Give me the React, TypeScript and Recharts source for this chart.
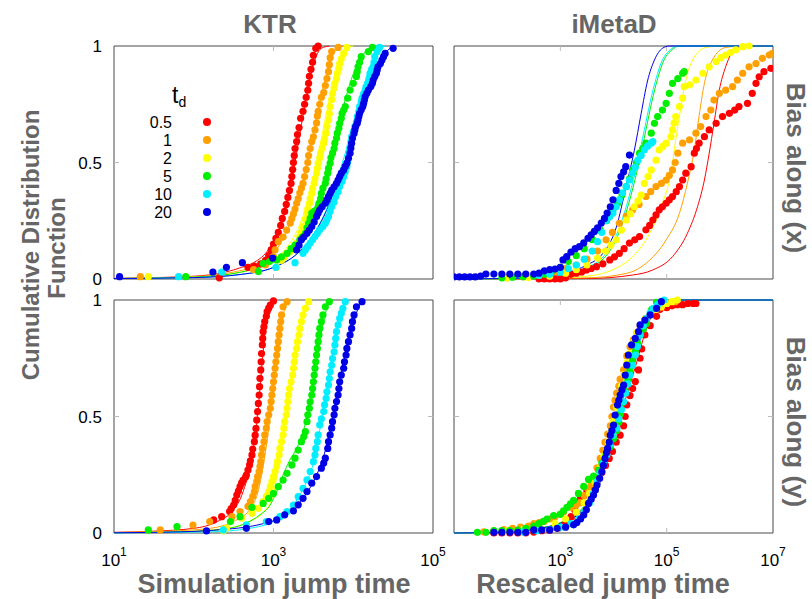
import {
  ComposedChart,
  Scatter,
  Line,
  XAxis,
  YAxis,
  ReferenceArea,
  ReferenceLine,
  Legend,
} from 'recharts'

type P = [number, number]

const TD_LABELS = ['0.5', '1', '2', '5', '10', '20']
const TD_COLORS = ['#ff0000', '#ffa000', '#ffff00', '#00ee00', '#00eeff', '#0000e6']
const X_TICKS_KTR = [10, 1e3, 1e5]
const X_TICKS_META = [1e3, 1e5, 1e7]

// KTR, bias along x
const ktrX_05: P[] = [[2.32,0.005],[2.68,0.05],[2.76,0.055],[2.84,0.065],[2.9,0.08],[2.94,0.1],[2.97,0.125],[3.0,0.15],[3.03,0.175],[3.06,0.2],[3.09,0.23],[3.11,0.26],[3.14,0.29],[3.16,0.32],[3.18,0.35],[3.2,0.38],[3.22,0.41],[3.23,0.44],[3.24,0.47],[3.25,0.5],[3.26,0.53],[3.27,0.56],[3.29,0.59],[3.3,0.62],[3.32,0.65],[3.34,0.69],[3.37,0.72],[3.39,0.75],[3.41,0.78],[3.43,0.81],[3.44,0.84],[3.45,0.87],[3.47,0.9],[3.49,0.93],[3.5,0.96],[3.53,0.99],[3.56,1]]
const ktrX_1: P[] = [[1.33,0.01],[2.75,0.04],[2.9,0.06],[3.0,0.096],[3.02,0.125],[3.06,0.16],[3.12,0.18],[3.165,0.21],[3.21,0.24],[3.23,0.26],[3.25,0.28],[3.27,0.3],[3.29,0.325],[3.31,0.345],[3.33,0.37],[3.35,0.39],[3.37,0.41],[3.39,0.44],[3.41,0.47],[3.43,0.5],[3.44,0.53],[3.46,0.56],[3.48,0.59],[3.5,0.61],[3.52,0.64],[3.54,0.67],[3.55,0.7],[3.56,0.72],[3.58,0.75],[3.6,0.78],[3.63,0.8],[3.65,0.83],[3.67,0.86],[3.69,0.89],[3.7,0.92],[3.71,0.95],[3.73,0.976],[3.81,0.994]]
const ktrX_2: P[] = [[1.43,0.01],[3.04,0.05],[3.1,0.08],[3.14,0.096],[3.2,0.115],[3.23,0.125],[3.27,0.14],[3.29,0.154],[3.33,0.182],[3.35,0.2],[3.37,0.225],[3.4,0.255],[3.42,0.283],[3.43,0.3],[3.45,0.325],[3.46,0.345],[3.48,0.368],[3.49,0.39],[3.51,0.411],[3.52,0.43],[3.54,0.454],[3.55,0.475],[3.56,0.497],[3.58,0.52],[3.59,0.54],[3.61,0.56],[3.63,0.583],[3.64,0.6],[3.66,0.626],[3.67,0.655],[3.69,0.683],[3.7,0.71],[3.71,0.74],[3.73,0.77],[3.74,0.797],[3.76,0.82],[3.77,0.84],[3.79,0.86],[3.8,0.883],[3.82,0.905],[3.83,0.925],[3.85,0.945],[3.88,0.968],[3.92,0.994]]
const ktrX_5: P[] = [[1.9,0.01],[2.81,0.032],[2.87,0.067],[2.95,0.075],[3.04,0.082],[3.1,0.095],[3.17,0.11],[3.22,0.13],[3.27,0.146],[3.33,0.168],[3.36,0.18],[3.4,0.196],[3.42,0.22],[3.44,0.239],[3.46,0.26],[3.48,0.283],[3.51,0.29],[3.54,0.297],[3.56,0.31],[3.57,0.325],[3.59,0.345],[3.6,0.368],[3.62,0.39],[3.65,0.411],[3.66,0.43],[3.68,0.454],[3.69,0.475],[3.71,0.497],[3.72,0.52],[3.74,0.54],[3.76,0.56],[3.77,0.583],[3.79,0.605],[3.8,0.626],[3.82,0.647],[3.83,0.668],[3.85,0.69],[3.86,0.711],[3.88,0.725],[3.9,0.74],[3.93,0.776],[3.96,0.811],[4.0,0.84],[4.04,0.869],[4.05,0.89],[4.06,0.911],[4.08,0.93],[4.1,0.954],[4.19,0.976],[4.24,0.994]]
const ktrX_10: P[] = [[1.81,0.01],[2.35,0.03],[3.03,0.05],[3.27,0.07],[3.37,0.11],[3.4,0.125],[3.43,0.14],[3.46,0.154],[3.49,0.168],[3.52,0.182],[3.55,0.196],[3.58,0.211],[3.62,0.225],[3.65,0.239],[3.67,0.254],[3.69,0.268],[3.71,0.29],[3.73,0.311],[3.76,0.33],[3.78,0.354],[3.81,0.375],[3.83,0.397],[3.86,0.418],[3.88,0.439],[3.9,0.46],[3.92,0.482],[3.93,0.503],[3.94,0.525],[3.95,0.546],[3.96,0.568],[3.97,0.59],[3.98,0.611],[4.0,0.632],[4.02,0.654],[4.04,0.675],[4.05,0.697],[4.07,0.72],[4.08,0.74],[4.1,0.76],[4.11,0.776],[4.13,0.795],[4.15,0.811],[4.16,0.825],[4.18,0.84],[4.2,0.862],[4.21,0.883],[4.23,0.9],[4.25,0.911],[4.26,0.93],[4.27,0.954],[4.3,0.975],[4.33,0.994]]
const ktrX_20: P[] = [[1.07,0.01],[2.24,0.03],[2.41,0.05],[2.61,0.07],[2.99,0.09],[3.29,0.125],[3.32,0.145],[3.35,0.168],[3.38,0.18],[3.42,0.196],[3.45,0.21],[3.48,0.225],[3.51,0.245],[3.54,0.268],[3.56,0.283],[3.58,0.297],[3.61,0.31],[3.65,0.325],[3.67,0.34],[3.69,0.354],[3.71,0.368],[3.73,0.382],[3.76,0.396],[3.79,0.411],[3.81,0.425],[3.83,0.44],[3.85,0.454],[3.88,0.468],[3.9,0.483],[3.92,0.497],[3.94,0.518],[3.96,0.54],[3.97,0.562],[3.98,0.583],[3.99,0.604],[4.01,0.625],[4.02,0.64],[4.03,0.654],[4.05,0.668],[4.06,0.682],[4.07,0.697],[4.08,0.711],[4.1,0.726],[4.12,0.74],[4.13,0.754],[4.14,0.768],[4.15,0.783],[4.17,0.797],[4.19,0.811],[4.22,0.826],[4.24,0.84],[4.25,0.854],[4.27,0.869],[4.29,0.883],[4.3,0.897],[4.31,0.911],[4.34,0.925],[4.36,0.94],[4.38,0.954],[4.4,0.968],[4.5,0.99]]
const ktrXFit_05: P[] = [[1,0.003],[2,0.012],[2.4,0.03],[2.6,0.05],[2.8,0.08],[2.9,0.11],[3,0.16],[3.1,0.24],[3.2,0.37],[3.3,0.56],[3.4,0.76],[3.5,0.92],[3.6,0.99],[3.7,1]]
const ktrXFit_1: P[] = [[1,0.002],[2,0.01],[2.5,0.03],[2.8,0.06],[3,0.11],[3.1,0.16],[3.2,0.23],[3.3,0.33],[3.4,0.46],[3.5,0.62],[3.6,0.79],[3.7,0.92],[3.8,0.99],[3.9,1]]
const ktrXFit_2: P[] = [[1,0.002],[2,0.008],[2.6,0.03],[2.9,0.06],[3.1,0.11],[3.2,0.15],[3.3,0.21],[3.4,0.3],[3.5,0.43],[3.6,0.6],[3.7,0.77],[3.8,0.91],[3.9,0.99],[4,1]]
const ktrXFit_5: P[] = [[1,0.002],[2,0.008],[2.6,0.03],[2.9,0.06],[3.1,0.09],[3.3,0.15],[3.5,0.27],[3.6,0.37],[3.7,0.5],[3.8,0.64],[3.9,0.77],[4,0.88],[4.1,0.95],[4.2,0.99],[4.3,1]]
const ktrXFit_10: P[] = [[1,0.002],[2,0.006],[2.6,0.02],[3,0.05],[3.3,0.11],[3.5,0.19],[3.7,0.33],[3.8,0.43],[3.9,0.54],[4,0.66],[4.1,0.79],[4.2,0.9],[4.3,0.97],[4.4,1]]
const ktrXFit_20: P[] = [[1,0.002],[2,0.006],[2.6,0.02],[3,0.05],[3.3,0.11],[3.5,0.19],[3.7,0.32],[3.8,0.41],[3.9,0.5],[4,0.62],[4.1,0.74],[4.2,0.84],[4.3,0.92],[4.4,0.97],[4.5,1]]

// KTR, bias along y
const ktrY_05: P[] = [[2.25,0.056],[2.35,0.07],[2.45,0.092],[2.47,0.105],[2.5,0.12],[2.52,0.14],[2.54,0.163],[2.56,0.18],[2.58,0.199],[2.6,0.215],[2.62,0.227],[2.65,0.24],[2.66,0.249],[2.68,0.27],[2.7,0.292],[2.71,0.31],[2.73,0.335],[2.74,0.36],[2.76,0.392],[2.77,0.42],[2.78,0.449],[2.79,0.485],[2.8,0.521],[2.81,0.556],[2.82,0.592],[2.825,0.628],[2.83,0.664],[2.84,0.7],[2.845,0.735],[2.85,0.77],[2.86,0.807],[2.865,0.835],[2.87,0.864],[2.88,0.885],[2.89,0.907],[2.91,0.93],[2.92,0.95],[2.94,0.965],[2.96,0.978],[3.0,0.996]]
const ktrY_1: P[] = [[1.58,0.013],[1.99,0.034],[2.2,0.049],[2.48,0.07],[2.58,0.092],[2.68,0.114],[2.71,0.135],[2.74,0.157],[2.76,0.178],[2.77,0.2],[2.79,0.221],[2.8,0.242],[2.82,0.264],[2.83,0.285],[2.84,0.306],[2.85,0.335],[2.86,0.363],[2.88,0.392],[2.89,0.421],[2.91,0.45],[2.92,0.478],[2.94,0.507],[2.96,0.535],[2.97,0.564],[2.98,0.592],[2.99,0.62],[3.0,0.649],[3.01,0.678],[3.02,0.707],[3.03,0.735],[3.04,0.764],[3.05,0.792],[3.06,0.821],[3.07,0.85],[3.08,0.878],[3.09,0.907],[3.1,0.936],[3.12,0.971],[3.17,0.993]]
const ktrY_2: P[] = [[2.37,0.01],[2.41,0.021],[2.6,0.064],[2.73,0.085],[2.81,0.106],[2.87,0.135],[2.91,0.157],[2.94,0.178],[2.96,0.2],[2.98,0.221],[3.0,0.242],[3.02,0.264],[3.04,0.285],[3.05,0.306],[3.07,0.335],[3.08,0.363],[3.1,0.392],[3.12,0.421],[3.13,0.45],[3.14,0.478],[3.16,0.507],[3.17,0.535],[3.18,0.564],[3.19,0.592],[3.2,0.62],[3.22,0.649],[3.24,0.678],[3.25,0.707],[3.26,0.735],[3.27,0.764],[3.29,0.792],[3.3,0.821],[3.32,0.85],[3.33,0.878],[3.35,0.907],[3.37,0.936],[3.4,0.964],[3.44,0.993]]
const ktrY_5: P[] = [[1.43,0.013],[1.79,0.027],[2.46,0.049],[2.58,0.07],[2.73,0.11],[2.87,0.127],[2.94,0.149],[3.0,0.17],[3.06,0.199],[3.12,0.227],[3.17,0.256],[3.23,0.292],[3.27,0.321],[3.31,0.356],[3.35,0.392],[3.38,0.414],[3.4,0.435],[3.42,0.478],[3.43,0.507],[3.45,0.535],[3.46,0.563],[3.48,0.592],[3.49,0.62],[3.5,0.649],[3.51,0.678],[3.52,0.707],[3.53,0.735],[3.54,0.764],[3.55,0.792],[3.56,0.821],[3.57,0.85],[3.58,0.878],[3.6,0.907],[3.62,0.936],[3.65,0.971],[3.7,0.993]]
const ktrY_10: P[] = [[2.37,0.013],[2.66,0.035],[2.91,0.049],[3.08,0.07],[3.17,0.092],[3.25,0.12],[3.31,0.156],[3.37,0.192],[3.42,0.228],[3.46,0.264],[3.5,0.306],[3.52,0.335],[3.53,0.363],[3.55,0.392],[3.56,0.421],[3.58,0.464],[3.6,0.49],[3.63,0.521],[3.64,0.55],[3.66,0.578],[3.67,0.606],[3.69,0.635],[3.7,0.663],[3.71,0.692],[3.73,0.72],[3.74,0.749],[3.76,0.778],[3.77,0.807],[3.78,0.835],[3.79,0.864],[3.81,0.893],[3.83,0.921],[3.85,0.943],[3.87,0.964],[3.9,0.993]]
const ktrY_20: P[] = [[2.16,0.009],[2.66,0.02],[2.94,0.049],[3.04,0.056],[3.14,0.078],[3.25,0.095],[3.31,0.121],[3.37,0.149],[3.42,0.178],[3.48,0.214],[3.54,0.242],[3.6,0.278],[3.63,0.3],[3.65,0.321],[3.68,0.363],[3.69,0.392],[3.71,0.421],[3.73,0.45],[3.74,0.478],[3.76,0.507],[3.77,0.535],[3.79,0.564],[3.81,0.592],[3.82,0.62],[3.83,0.649],[3.85,0.678],[3.88,0.707],[3.89,0.735],[3.91,0.764],[3.92,0.792],[3.94,0.821],[3.96,0.85],[3.98,0.878],[3.99,0.907],[4.01,0.936],[4.04,0.971],[4.11,0.993]]
const ktrYFit_05: P[] = [[1,0.003],[1.5,0.008],[2,0.02],[2.3,0.05],[2.5,0.1],[2.6,0.16],[2.7,0.28],[2.8,0.5],[2.85,0.7],[2.9,0.88],[2.95,0.97],[3,1]]
const ktrYFit_1: P[] = [[1,0.002],[1.7,0.008],[2.2,0.02],[2.5,0.05],[2.7,0.1],[2.8,0.17],[2.9,0.35],[3,0.62],[3.05,0.76],[3.1,0.9],[3.15,0.97],[3.2,1]]
const ktrYFit_2: P[] = [[1,0.002],[1.8,0.006],[2.4,0.02],[2.7,0.05],[2.9,0.1],[3,0.17],[3.1,0.37],[3.2,0.6],[3.3,0.83],[3.4,0.96],[3.45,1]]
const ktrYFit_5: P[] = [[1,0.001],[2.04,0.007],[2.46,0.021],[2.66,0.043],[2.83,0.078],[2.96,0.121],[3.04,0.178],[3.12,0.249],[3.2,0.31],[3.3,0.37],[3.4,0.47],[3.5,0.65],[3.6,0.86],[3.7,0.99],[3.75,1]]
const ktrYFit_10: P[] = [[1,0.001],[2.2,0.005],[2.7,0.02],[3,0.05],[3.2,0.1],[3.4,0.21],[3.5,0.3],[3.6,0.48],[3.7,0.68],[3.8,0.87],[3.9,0.99],[3.95,1]]
const ktrYFit_20: P[] = [[1,0.001],[1.83,0.005],[2.25,0.012],[2.87,0.04],[3.21,0.092],[3.37,0.15],[3.5,0.22],[3.6,0.3],[3.7,0.42],[3.8,0.6],[3.9,0.77],[4,0.9],[4.1,0.99],[4.15,1]]

// iMetaD, bias along x
const metaX_05: P[] = [[2.6,0],[2.7,0],[2.8,0],[2.9,0],[3.0,0],[3.1,0.005],[3.2,0.02],[3.3,0.025],[3.4,0.03],[3.49,0.039],[3.58,0.045],[3.68,0.053],[3.8,0.065],[3.93,0.082],[4.02,0.095],[4.11,0.11],[4.2,0.13],[4.3,0.154],[4.4,0.168],[4.49,0.182],[4.61,0.211],[4.68,0.23],[4.74,0.253],[4.8,0.275],[4.86,0.297],[4.92,0.31],[4.99,0.325],[5.05,0.34],[5.11,0.354],[5.18,0.375],[5.24,0.397],[5.3,0.425],[5.36,0.454],[5.46,0.482],[5.52,0.54],[5.56,0.56],[5.61,0.583],[5.71,0.611],[5.8,0.64],[5.93,0.668],[6.05,0.697],[6.18,0.711],[6.28,0.725],[6.36,0.74],[6.52,0.754],[6.61,0.797],[6.68,0.84],[6.74,0.868],[6.83,0.89],[6.96,0.904]]
const metaX_1: P[] = [[2.0,0.006],[2.3,0.01],[2.6,0.015],[2.9,0.03],[3.1,0.045],[3.3,0.06],[3.5,0.085],[3.7,0.12],[3.86,0.168],[3.98,0.2],[4.11,0.239],[4.24,0.27],[4.36,0.297],[4.48,0.32],[4.61,0.354],[4.7,0.375],[4.8,0.397],[4.9,0.41],[4.99,0.425],[5.05,0.445],[5.11,0.468],[5.16,0.5],[5.21,0.54],[5.3,0.583],[5.43,0.597],[5.55,0.626],[5.64,0.654],[5.74,0.697],[5.83,0.725],[5.89,0.768],[5.99,0.797],[6.11,0.811],[6.24,0.826],[6.33,0.854],[6.43,0.883],[6.55,0.911],[6.68,0.925],[6.8,0.947],[6.93,0.961],[6.98,0.967]]
const metaX_2: P[] = [[2.0,0.004],[2.4,0.006],[2.8,0.012],[3.1,0.025],[3.3,0.04],[3.5,0.06],[3.7,0.09],[3.85,0.12],[3.95,0.145],[4.05,0.168],[4.15,0.21],[4.24,0.253],[4.32,0.28],[4.39,0.31],[4.46,0.335],[4.52,0.36],[4.58,0.41],[4.65,0.44],[4.71,0.468],[4.8,0.51],[4.86,0.554],[4.93,0.57],[4.99,0.583],[5.08,0.611],[5.11,0.64],[5.14,0.67],[5.17,0.697],[5.24,0.74],[5.3,0.776],[5.33,0.826],[5.43,0.833],[5.55,0.854],[5.68,0.883],[5.8,0.911],[5.93,0.933],[6.02,0.95],[6.11,0.961],[6.2,0.972],[6.3,0.983],[6.43,0.997],[6.55,1]]
const metaX_5: P[] = [[1.9,0.005],[2.1,0.008],[2.3,0.01],[2.5,0.012],[2.7,0.02],[2.85,0.035],[3.0,0.05],[3.15,0.075],[3.3,0.1],[3.45,0.13],[3.6,0.17],[3.75,0.21],[3.87,0.25],[3.93,0.27],[3.99,0.297],[4.08,0.325],[4.16,0.36],[4.24,0.397],[4.3,0.43],[4.36,0.468],[4.43,0.5],[4.49,0.54],[4.55,0.56],[4.61,0.583],[4.71,0.626],[4.77,0.668],[4.83,0.697],[4.92,0.725],[4.99,0.754],[5.05,0.797],[5.11,0.84],[5.21,0.86],[5.3,0.883],[5.33,0.89]]
const metaX_10: P[] = [[2.6,0.015],[2.8,0.02],[3.0,0.03],[3.15,0.045],[3.3,0.06],[3.45,0.085],[3.6,0.12],[3.7,0.16],[3.78,0.2],[3.86,0.25],[3.92,0.265],[3.99,0.283],[4.05,0.31],[4.11,0.34],[4.17,0.37],[4.24,0.397],[4.3,0.425],[4.36,0.454],[4.41,0.48],[4.46,0.51],[4.52,0.53],[4.58,0.554],[4.64,0.57],[4.71,0.583],[4.74,0.59]]
const metaX_20: P[] = [[1.0,0.009],[1.1,0.009],[1.2,0.009],[1.3,0.009],[1.4,0.009],[1.5,0.012],[1.6,0.021],[1.75,0.021],[1.9,0.021],[2.05,0.021],[2.2,0.021],[2.35,0.021],[2.5,0.021],[2.6,0.025],[2.7,0.035],[2.8,0.04],[2.9,0.043],[3.0,0.05],[3.05,0.082],[3.12,0.096],[3.2,0.115],[3.28,0.13],[3.36,0.139],[3.44,0.155],[3.52,0.175],[3.58,0.19],[3.64,0.204],[3.7,0.22],[3.77,0.24],[3.83,0.26],[3.88,0.283],[3.94,0.31],[3.99,0.34],[4.05,0.38],[4.1,0.41],[4.14,0.44],[4.19,0.46],[4.23,0.482],[4.3,0.532]]
const metaXFit_05: P[] = [[1,0],[3.5,0.002],[4.36,0.017],[4.74,0.039],[5.11,0.096],[5.39,0.196],[5.58,0.31],[5.71,0.425],[5.8,0.54],[5.89,0.668],[5.99,0.811],[6.11,0.911],[6.3,0.99],[6.5,1],[7,1]]
const metaXFit_1: P[] = [[1,0],[3.5,0.005],[4.24,0.024],[4.61,0.067],[4.99,0.168],[5.24,0.282],[5.39,0.411],[5.52,0.554],[5.61,0.7],[5.71,0.84],[5.86,0.94],[6.11,0.994],[6.4,1],[7,1]]
const metaXFit_2: P[] = [[1,0],[3,0.005],[3.6,0.015],[3.99,0.04],[4.36,0.096],[4.68,0.196],[4.92,0.325],[5.08,0.454],[5.17,0.597],[5.27,0.74],[5.36,0.854],[5.49,0.94],[5.74,0.994],[6,1],[7,1]]
const metaXFit_5: P[] = [[1,0],[2.5,0.004],[3,0.013],[3.4,0.035],[3.9,0.11],[4.14,0.22],[4.33,0.36],[4.48,0.5],[4.61,0.64],[4.72,0.76],[4.83,0.86],[4.95,0.94],[5.08,0.98],[5.25,1],[7,1]]
const metaXFit_10: P[] = [[1,0],[2.5,0.004],[3,0.015],[3.4,0.04],[3.86,0.11],[4.11,0.22],[4.3,0.36],[4.45,0.5],[4.58,0.64],[4.69,0.76],[4.8,0.86],[4.92,0.94],[5.05,0.98],[5.2,1],[7,1]]
const metaXFit_20: P[] = [[1,0],[2.5,0.005],[3,0.02],[3.3,0.04],[3.5,0.06],[3.8,0.11],[4.05,0.22],[4.24,0.4],[4.39,0.55],[4.52,0.71],[4.64,0.85],[4.77,0.94],[4.92,0.99],[5.05,1],[7,1]]

// iMetaD, bias along y
const metaY_05: P[] = [[1.75,0],[1.9,0],[2.05,0],[2.2,0],[2.35,0],[2.5,0.004],[2.65,0.01],[2.8,0.012],[2.95,0.02],[3.1,0.04],[3.2,0.07],[3.27,0.1],[3.32,0.13],[3.38,0.155],[3.5,0.18],[3.6,0.2],[3.7,0.23],[3.78,0.26],[3.85,0.29],[3.92,0.32],[3.98,0.35],[4.05,0.39],[4.125,0.42],[4.19,0.46],[4.22,0.5],[4.25,0.55],[4.31,0.59],[4.36,0.62],[4.41,0.65],[4.47,0.7],[4.5,0.75],[4.53,0.79],[4.59,0.85],[4.69,0.89],[4.81,0.93],[4.875,0.96],[5.0,0.967],[5.1,0.975],[5.2,0.98],[5.3,0.98],[5.4,0.985],[5.5,0.985],[5.55,0.985]]
const metaY_1: P[] = [[1.56,0.005],[1.75,0.008],[1.94,0.015],[2.1,0.02],[2.25,0.025],[2.4,0.03],[2.5,0.04],[2.6,0.045],[2.7,0.05],[2.8,0.06],[2.9,0.07],[3.0,0.08],[3.06,0.09],[3.2,0.11],[3.3,0.12],[3.375,0.13],[3.45,0.16],[3.52,0.19],[3.58,0.21],[3.625,0.23],[3.69,0.28],[3.75,0.32],[3.8,0.355],[3.84,0.39],[3.89,0.425],[3.94,0.46],[3.97,0.5],[4.0,0.54],[4.03,0.57],[4.06,0.6],[4.1,0.63],[4.125,0.66],[4.19,0.7],[4.25,0.76],[4.31,0.8],[4.375,0.83],[4.44,0.86],[4.5,0.89],[4.6,0.92],[4.69,0.94],[4.81,0.964],[4.9,0.975],[5.0,0.985],[5.16,0.993]]
const metaY_2: P[] = [[2.0,0.01],[2.3,0.015],[2.6,0.025],[2.9,0.04],[3.1,0.06],[3.3,0.09],[3.45,0.13],[3.55,0.17],[3.65,0.22],[3.75,0.28],[3.82,0.33],[3.9,0.39],[3.95,0.43],[4.0,0.48],[4.06,0.54],[4.1,0.58],[4.15,0.63],[4.2,0.68],[4.25,0.73],[4.3,0.77],[4.38,0.82],[4.45,0.86],[4.52,0.89],[4.6,0.92],[4.7,0.95],[4.8,0.96],[4.9,0.97],[5.0,0.985],[5.1,0.993],[5.2,1]]
const metaY_5: P[] = [[1.44,0.003],[1.6,0.003],[1.75,0.01],[1.9,0.01],[2.05,0.01],[2.2,0.012],[2.35,0.02],[2.5,0.03],[2.6,0.04],[2.68,0.05],[2.75,0.06],[2.875,0.075],[3.0,0.08],[3.06,0.095],[3.125,0.11],[3.19,0.125],[3.25,0.14],[3.34,0.17],[3.44,0.2],[3.53,0.23],[3.625,0.244],[3.72,0.27],[3.78,0.3],[3.86,0.335],[3.94,0.37],[4.0,0.405],[4.06,0.44],[4.1,0.475],[4.125,0.51],[4.17,0.56],[4.22,0.61],[4.27,0.655],[4.31,0.7],[4.36,0.74],[4.41,0.78],[4.45,0.815],[4.5,0.85],[4.56,0.875],[4.625,0.9],[4.72,0.96],[4.81,0.99]]
const metaY_10: P[] = [[2.3,0.004],[2.56,0.01],[2.8,0.015],[3.0,0.025],[3.2,0.04],[3.35,0.06],[3.45,0.09],[3.55,0.13],[3.62,0.17],[3.69,0.22],[3.75,0.26],[3.81,0.3],[3.875,0.335],[3.93,0.38],[3.99,0.42],[4.06,0.45],[4.1,0.49],[4.15,0.53],[4.19,0.563],[4.23,0.6],[4.27,0.64],[4.31,0.678],[4.36,0.72],[4.41,0.764],[4.45,0.8],[4.5,0.85],[4.56,0.89],[4.625,0.921],[4.69,0.945],[4.75,0.964],[4.83,0.98],[4.9,0.993],[4.95,1]]
const metaY_20: P[] = [[1.75,0.003],[1.9,0.003],[2.05,0.003],[2.2,0.003],[2.35,0.003],[2.5,0.013],[2.65,0.013],[2.8,0.013],[2.94,0.02],[3.1,0.025],[3.25,0.035],[3.31,0.045],[3.38,0.06],[3.44,0.077],[3.49,0.1],[3.53,0.127],[3.58,0.145],[3.625,0.163],[3.66,0.185],[3.69,0.206],[3.74,0.235],[3.78,0.263],[3.81,0.29],[3.84,0.32],[3.87,0.345],[3.89,0.363],[3.92,0.39],[3.94,0.42],[3.97,0.44],[4.0,0.463],[4.03,0.506],[4.075,0.549],[4.1,0.57],[4.125,0.592],[4.16,0.615],[4.19,0.635],[4.22,0.678],[4.25,0.721],[4.28,0.764],[4.34,0.807],[4.41,0.835],[4.47,0.864],[4.5,0.893],[4.59,0.914],[4.69,0.936],[4.81,0.964],[4.9,0.993]]
const metaYFit_05: P[] = [[1,0],[1.7,0.001],[2.62,0.018],[3.12,0.047],[3.44,0.09],[3.69,0.177],[3.87,0.306],[4.06,0.449],[4.25,0.592],[4.44,0.735],[4.62,0.878],[4.81,0.964],[5,0.993],[5.19,1],[7,1]]
const metaYFit_1: P[] = [[1,0],[1.6,0.001],[2.54,0.018],[3.04,0.047],[3.36,0.09],[3.61,0.177],[3.79,0.306],[3.98,0.449],[4.17,0.592],[4.36,0.735],[4.54,0.878],[4.73,0.964],[4.92,0.993],[5.11,1],[7,1]]
const metaYFit_2: P[] = [[1,0],[1.6,0.001],[2.55,0.018],[3.05,0.047],[3.37,0.09],[3.62,0.177],[3.8,0.306],[3.99,0.449],[4.18,0.592],[4.37,0.735],[4.55,0.878],[4.74,0.964],[4.93,0.993],[5.12,1],[7,1]]
const metaYFit_5: P[] = [[1,0],[1.6,0.002],[2.53,0.018],[3.03,0.047],[3.35,0.09],[3.6,0.177],[3.78,0.306],[3.97,0.449],[4.16,0.592],[4.35,0.735],[4.53,0.878],[4.72,0.964],[4.91,0.993],[5.1,1],[7,1]]
const metaYFit_10: P[] = [[1,0],[1.6,0.001],[2.58,0.018],[3.08,0.047],[3.4,0.09],[3.65,0.177],[3.83,0.306],[4.02,0.449],[4.21,0.592],[4.4,0.735],[4.58,0.878],[4.77,0.964],[4.96,0.993],[5.15,1],[7,1]]
const metaYFit_20: P[] = [[1,0],[1.6,0.001],[2.56,0.018],[3.06,0.047],[3.38,0.09],[3.63,0.177],[3.81,0.306],[4,0.449],[4.19,0.592],[4.38,0.735],[4.56,0.878],[4.75,0.964],[4.94,0.993],[5.13,1],[7,1]]

const FONT = '"Liberation Sans", Arial, Helvetica, sans-serif'
const GREY = '#666'
const PLOT_W = 319
const PLOT_H = 233

const toPts = (arr: P[]) => arr.map(([lx, y]) => ({ x: 10 ** lx, y }))

function PowTick({ x, y, payload }: any) {
  const exp = Math.round(Math.log10(payload.value))
  return (
    <text x={x} y={y + 31} textAnchor="middle" fontSize={17} fill="#000" fontFamily={FONT}>
      10<tspan dy={-10} fontSize={12}>{exp}</tspan>
    </text>
  )
}

function TdLegend() {
  return (
    <svg width={80} height={145} style={{ overflow: 'visible' }}>
      <text x={32} y={23} fontSize={23} fontFamily={FONT} fill="#000">
        t<tspan dy={4} fontSize={14}>d</tspan>
      </text>
      {TD_LABELS.map((lab, i) => (
        <g key={lab}>
          <text x={32} y={42 + i * 18 + 6} textAnchor="end" fontSize={16} fontFamily={FONT} fill="#000">
            {lab}
          </text>
          <circle cx={67} cy={42 + i * 18} r={4} fill={TD_COLORS[i]} />
        </g>
      ))}
    </svg>
  )
}

interface PanelProps {
  left: number
  top: number
  dots: P[][]
  fits: P[][]
  maxExp: number
  yLabels: boolean
  xTicks: number[] | null
  marks: number[]
  legend?: boolean
}

function Panel({ left, top, dots, fits, maxExp, yLabels, xTicks, marks, legend }: PanelProps) {
  const dMin = 10
  const dMax = 10 ** maxExp
  const right = 22
  const width = (yLabels ? 50 : 10) + PLOT_W + right
  const height = 10 + PLOT_H + (xTicks ? 45 : 10)
  // 5px inner tick marks
  const tickX = 10 ** ((5 / PLOT_W) * (maxExp - 1))
  const tickY = 5 / PLOT_H
  return (
    <div style={{ position: 'absolute', left, top }}>
      <ComposedChart
        width={width}
        height={height}
        margin={{ top: 10, right, bottom: xTicks ? 0 : 10, left: yLabels ? 0 : 10 }}
      >
        <XAxis
          dataKey="x"
          type="number"
          scale="log"
          domain={[dMin, dMax]}
          allowDataOverflow
          hide={!xTicks}
          ticks={xTicks ?? undefined}
          tick={<PowTick />}
          tickLine={false}
          axisLine={false}
          tickSize={0}
          height={45}
          interval={0}
        />
        <YAxis
          dataKey="y"
          type="number"
          domain={[0, 1]}
          ticks={[0, 0.5, 1]}
          hide={!yLabels}
          width={50}
          tickLine={false}
          axisLine={false}
          tickSize={0}
          tickMargin={12}
          tick={{ fontSize: 17, fill: '#000', fontFamily: FONT }}
          tickFormatter={(v: number) => String(v)}
        />
        <ReferenceArea x1={dMin} x2={dMax} y1={0} y2={1} fill="#fff" stroke="#4a4a4a" strokeWidth={1} ifOverflow="visible" />
        {marks.map((m) => (
          <ReferenceLine key={'b' + m} segment={[{ x: m, y: 0 }, { x: m, y: tickY }]} stroke="#bbb" />
        ))}
        {marks.map((m) => (
          <ReferenceLine key={'t' + m} segment={[{ x: m, y: 1 }, { x: m, y: 1 - tickY }]} stroke="#bbb" />
        ))}
        <ReferenceLine segment={[{ x: dMin, y: 0.5 }, { x: dMin * tickX, y: 0.5 }]} stroke="#bbb" />
        <ReferenceLine segment={[{ x: dMax, y: 0.5 }, { x: dMax / tickX, y: 0.5 }]} stroke="#bbb" />
        {fits.map((f, i) => (
          <Line
            key={'fit' + i}
            data={toPts(f)}
            dataKey="y"
            type="monotone"
            stroke={TD_COLORS[i]}
            strokeWidth={1}
            dot={false}
            activeDot={false}
            legendType="none"
            isAnimationActive={false}
          />
        ))}
        {dots.map((d, i) => (
          <Scatter
            key={'dots' + i}
            data={toPts(d)}
            dataKey="y"
            fill={TD_COLORS[i]}
            legendType="none"
            isAnimationActive={false}
            shape={(p: any) => <circle cx={p.cx} cy={p.cy} r={3.6} fill={TD_COLORS[i]} />}
          />
        ))}
        {legend && (
          <Legend
            layout="vertical"
            align="center"
            verticalAlign="middle"
            content={() => <TdLegend />}
            wrapperStyle={{ left: 76, top: 44, width: 80, height: 145 }}
          />
        )}
      </ComposedChart>
    </div>
  )
}

export default function App() {
  return (
    <div
      style={{
        position: 'absolute',
        left: 0,
        top: 0,
        width: 812,
        height: 599,
        background: '#fff',
        fontFamily: FONT,
        overflow: 'hidden',
      }}
    >
      <svg width={812} height={599} style={{ position: 'absolute', left: 0, top: 0 }}>
        <g fontFamily={FONT} fontWeight="bold" fill={GREY}>
          <text x={270} y={33} fontSize={26} textAnchor="middle">KTR</text>
          <text x={614} y={33} fontSize={26} textAnchor="middle">iMetaD</text>
          <text x={274} y={593} fontSize={27} textAnchor="middle">Simulation jump time</text>
          <text x={603} y={593} fontSize={27} textAnchor="middle">Rescaled jump time</text>
          <text transform="translate(39,245) rotate(-90)" fontSize={24} textAnchor="middle">
            Cumulative Distribution
          </text>
          <text transform="translate(65,248) rotate(-90)" fontSize={24} textAnchor="middle">
            Function
          </text>
          <text transform="translate(787,168) rotate(90)" fontSize={26} textAnchor="middle">
            Bias along (x)
          </text>
          <text transform="translate(787,422) rotate(90)" fontSize={26} textAnchor="middle">
            Bias along (y)
          </text>
        </g>
      </svg>
      <Panel
        left={444}
        top={36}
        dots={[metaX_05, metaX_1, metaX_2, metaX_5, metaX_10, metaX_20]}
        fits={[metaXFit_05, metaXFit_1, metaXFit_2, metaXFit_5, metaXFit_10, metaXFit_20]}
        maxExp={7}
        yLabels={false}
        xTicks={null}
        marks={[1e3, 1e5]}
      />
      <Panel
        left={444}
        top={290}
        dots={[metaY_05, metaY_1, metaY_2, metaY_5, metaY_10, metaY_20]}
        fits={[metaYFit_05, metaYFit_1, metaYFit_2, metaYFit_5, metaYFit_10, metaYFit_20]}
        maxExp={7}
        yLabels={false}
        xTicks={X_TICKS_META}
        marks={[1e3, 1e5]}
      />
      <Panel
        left={64}
        top={36}
        dots={[ktrX_05, ktrX_1, ktrX_2, ktrX_5, ktrX_10, ktrX_20]}
        fits={[ktrXFit_05, ktrXFit_1, ktrXFit_2, ktrXFit_5, ktrXFit_10, ktrXFit_20]}
        maxExp={5}
        yLabels
        xTicks={null}
        marks={[1e3]}
        legend
      />
      <Panel
        left={64}
        top={290}
        dots={[ktrY_05, ktrY_1, ktrY_2, ktrY_5, ktrY_10, ktrY_20]}
        fits={[ktrYFit_05, ktrYFit_1, ktrYFit_2, ktrYFit_5, ktrYFit_10, ktrYFit_20]}
        maxExp={5}
        yLabels
        xTicks={X_TICKS_KTR}
        marks={[1e3]}
      />
    </div>
  )
}
